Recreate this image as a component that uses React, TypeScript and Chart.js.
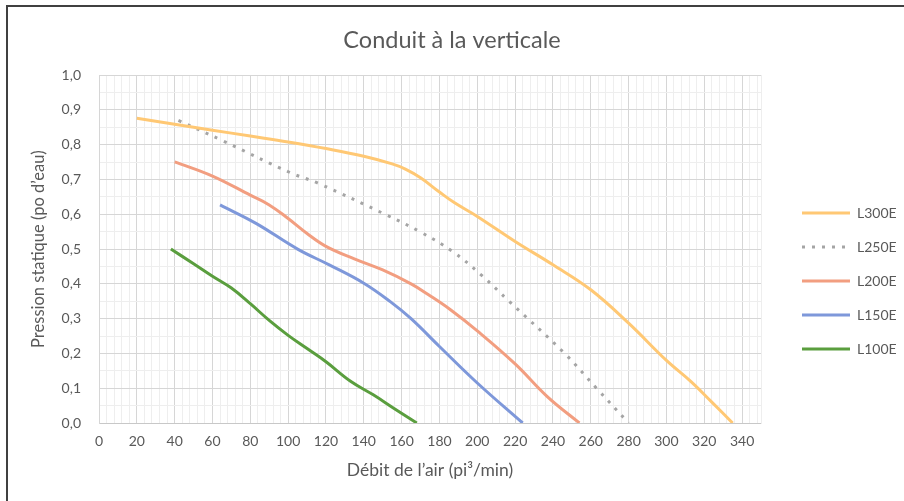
import { useEffect, useRef } from "react";
import { Chart, registerables } from "chart.js";

Chart.register(...registerables);

const TITLE = "Conduit à la verticale";
const X_TITLE = "Débit de l’air (pi³/min)";
const Y_TITLE = "Pression statique (po d’eau)";

const SERIES_NAMES = ["L300E", "L250E", "L200E", "L150E", "L100E"];

const L300E_X = [20, 40, 60, 80, 100, 120, 140, 155, 162, 170, 180, 188, 200, 220, 240, 260, 280, 300, 313, 324, 335];
const L300E_Y = [0.876, 0.859, 0.842, 0.825, 0.808, 0.789, 0.767, 0.745, 0.73, 0.705, 0.664, 0.633, 0.594, 0.522, 0.455, 0.383, 0.287, 0.18, 0.119, 0.06, 0];

const L250E_X = [42, 66, 101, 116, 152, 170, 187, 202, 217, 246, 263, 280];
const L250E_Y = [0.87, 0.81, 0.72, 0.689, 0.598, 0.549, 0.493, 0.426, 0.349, 0.201, 0.1, 0];

const L200E_X = [40, 60, 80, 90, 100, 110, 120, 135, 150, 165, 175, 186, 200, 220, 237, 254];
const L200E_Y = [0.751, 0.71, 0.655, 0.627, 0.588, 0.545, 0.508, 0.472, 0.44, 0.4, 0.366, 0.325, 0.265, 0.17, 0.076, 0];

const L150E_X = [64, 83, 105, 122, 140, 154, 165, 180, 200, 224];
const L150E_Y = [0.627, 0.574, 0.5, 0.454, 0.402, 0.349, 0.3, 0.22, 0.115, 0];

const L100E_X = [38, 50, 60, 70, 80, 90, 100, 110, 120, 133, 145, 156, 168];
const L100E_Y = [0.5, 0.458, 0.422, 0.388, 0.343, 0.295, 0.252, 0.214, 0.176, 0.12, 0.081, 0.042, 0];

const X_MIN = 0;
const X_MAX = 350;
const X_MAJOR = 20;
const X_MINOR = 4;
const Y_MIN = 0;
const Y_MAX = 1;
const Y_MAJOR = 0.1;
const Y_MINOR = 0.05;

const COLORS = ["#FFC874", "#A5A5A5", "#F29E80", "#7E98DA", "#5A9E3E"];
const DASHES: number[][] = [[], [3, 7], [], [], []];

const FONT = "Lato, 'Open Sans', sans-serif";
const TEXT = "#595959";
const MAJOR_GRID = "#D6D6D6";
const MINOR_GRID = "#EEEEEE";

function pts(xs: number[], ys: number[]) {
  return xs.map((x, i) => ({ x, y: ys[i] }));
}

export default function App() {
  const ref = useRef<HTMLCanvasElement>(null);

  useEffect(() => {
    const series = [
      pts(L300E_X, L300E_Y),
      pts(L250E_X, L250E_Y),
      pts(L200E_X, L200E_Y),
      pts(L150E_X, L150E_Y),
      pts(L100E_X, L100E_Y),
    ];
    const chart = new Chart(ref.current as HTMLCanvasElement, {
      type: "line",
      data: {
        datasets: series.map((data, i) => ({
          label: SERIES_NAMES[i],
          data,
          borderColor: COLORS[i],
          backgroundColor: COLORS[i],
          borderWidth: 3,
          borderDash: DASHES[i],
          pointRadius: 0,
          pointHoverRadius: 0,
          pointStyle: "line",
          tension: 0.4,
          fill: false,
        })),
      },
      options: {
        responsive: false,
        animation: false,
        devicePixelRatio: 1,
        layout: { padding: { left: 0, right: 0, top: 0, bottom: 14 } },
        plugins: {
          tooltip: { enabled: false },
          title: {
            display: true,
            text: TITLE,
            color: TEXT,
            font: { family: FONT, size: 23.5, weight: "normal" },
            padding: { top: 26, bottom: 21 },
          },
          legend: {
            position: "right",
            maxWidth: 122,
            title: {
              display: true,
              text: " ",
              font: { family: FONT, size: 10 },
              padding: { top: 63, bottom: 0 },
            },
            labels: {
              usePointStyle: true,
              pointStyleWidth: 48,
              padding: 20,
              color: TEXT,
              font: { family: FONT, size: 14 },
              generateLabels: (c: any) => {
                const items = (Chart.defaults as any).plugins.legend.labels.generateLabels(c);
                return items.map((it: any, i: number) => ({
                  ...it,
                  lineDash: DASHES[i],
                  pointStyle: "line",
                }));
              },
            },
          },
        },
        scales: {
          xMinor: {
            type: "linear",
            position: "bottom",
            min: X_MIN,
            max: X_MAX,
            z: -2,
            ticks: { display: false, stepSize: X_MINOR, includeBounds: false },
            grid: { color: MINOR_GRID, drawTicks: false },
            border: { display: false },
            afterFit: (s: any) => {
              s.height = 0;
            },
          },
          x: {
            type: "linear",
            position: "bottom",
            min: X_MIN,
            max: X_MAX,
            z: -1,
            ticks: {
              stepSize: X_MAJOR,
              includeBounds: false,
              autoSkip: false,
              maxRotation: 0,
              padding: 10,
              color: TEXT,
              font: { family: FONT, size: 14 },
              callback: (v: any) => String(v),
            },
            grid: { color: MAJOR_GRID, drawTicks: false },
            border: { display: true, color: "#C8C8C8" },
            title: {
              display: true,
              text: X_TITLE,
              color: TEXT,
              font: { family: FONT, size: 17.5 },
              padding: { top: 0, bottom: 6 },
            },
            afterFit: (s: any) => {
              s.height = 64;
            },
          },
          yMinor: {
            type: "linear",
            position: "left",
            min: Y_MIN,
            max: Y_MAX,
            z: -2,
            ticks: { display: false, stepSize: Y_MINOR },
            grid: { color: MINOR_GRID, drawTicks: false },
            border: { display: false },
            afterFit: (s: any) => {
              s.width = 0;
            },
          },
          y: {
            type: "linear",
            position: "left",
            min: Y_MIN,
            max: Y_MAX,
            z: -1,
            ticks: {
              stepSize: Y_MAJOR,
              padding: 18,
              color: TEXT,
              font: { family: FONT, size: 14 },
              callback: (v: any) => Number(v).toFixed(1).replace(".", ","),
            },
            grid: { color: MAJOR_GRID, drawTicks: false },
            border: { display: true, color: MAJOR_GRID },
            title: {
              display: true,
              text: Y_TITLE,
              color: TEXT,
              font: { family: FONT, size: 16.5 },
              padding: { top: 29, bottom: 0 },
            },
            afterFit: (s: any) => {
              s.width = 99;
            },
          },
          yRight: {
            type: "linear",
            position: "right",
            min: Y_MIN,
            max: Y_MAX,
            ticks: { display: false },
            grid: { display: false, drawTicks: false },
            border: { display: true, color: MINOR_GRID },
            afterFit: (s: any) => {
              s.width = 21;
            },
          },
        },
      },
    } as any);
    return () => chart.destroy();
  }, []);

  return (
    <div style={{ position: "absolute", left: 0, top: 0, width: 904, height: 501, background: "#fff", overflow: "hidden" }}>
      <canvas ref={ref} width={904} height={501} style={{ display: "block", width: 904, height: 501 }} />
      <div
        style={{
          position: "absolute",
          left: 6,
          top: 5,
          right: -4,
          bottom: -4,
          borderLeft: "2px solid #404040",
          borderTop: "2px solid #404040",
          pointerEvents: "none",
        }}
      />
    </div>
  );
}
